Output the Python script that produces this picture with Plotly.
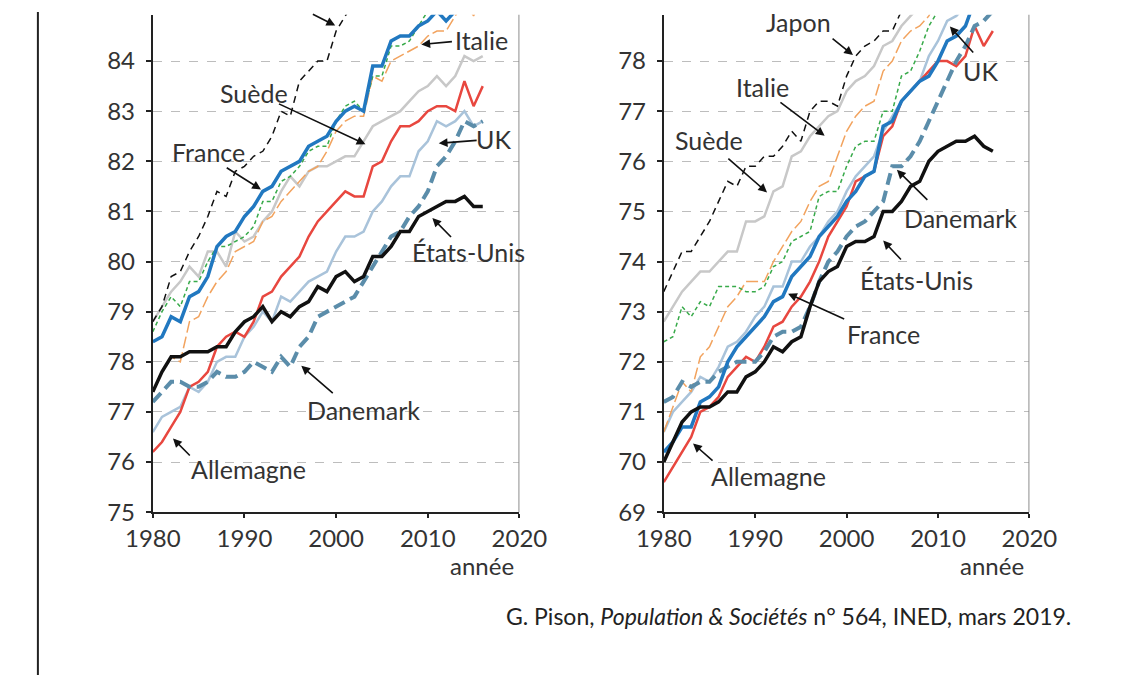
import plotly.graph_objects as go

years = list(range(1980, 2017))

# Women (left panel)
f_japon = [78.8, 79.1, 79.7, 79.8, 80.2, 80.5, 80.9, 81.4, 81.3, 81.8, 81.9, 82.1, 82.2, 82.5, 83.0, 82.9, 83.6, 83.8, 84.0, 84.0, 84.6, 84.9, 85.2, 85.3, 85.6, 85.5, 85.8, 86.0, 86.1, 86.4, 86.3, 85.9, 86.4, 86.6, 86.8, 87.0, 87.1]
f_france = [78.4, 78.5, 78.9, 78.8, 79.3, 79.4, 79.7, 80.3, 80.5, 80.6, 80.9, 81.1, 81.4, 81.5, 81.8, 81.9, 82.0, 82.3, 82.4, 82.5, 82.8, 83.0, 83.1, 83.0, 83.9, 83.9, 84.4, 84.5, 84.5, 84.7, 84.8, 85.0, 84.8, 85.0, 85.4, 85.3, 85.5]
f_italie = [77.4, 77.8, 78.1, 78.0, 78.8, 78.9, 79.3, 79.6, 79.8, 80.2, 80.3, 80.4, 80.8, 80.9, 81.2, 81.4, 81.6, 81.8, 81.9, 82.2, 82.6, 82.8, 82.9, 82.9, 83.7, 83.6, 84.0, 84.1, 84.2, 84.3, 84.5, 84.6, 84.6, 84.9, 85.2, 84.9, 85.3]
f_espagne = [78.6, 79.0, 79.3, 79.1, 79.6, 79.6, 80.0, 80.3, 80.3, 80.4, 80.5, 80.7, 81.2, 81.2, 81.6, 81.7, 81.9, 82.2, 82.3, 82.3, 82.8, 83.1, 83.2, 83.0, 83.7, 83.7, 84.3, 84.3, 84.4, 84.7, 85.0, 85.2, 85.1, 85.6, 85.7, 85.4, 85.9]
f_suede = [78.8, 79.1, 79.4, 79.6, 79.9, 79.7, 80.2, 80.2, 79.9, 80.6, 80.4, 80.5, 80.8, 81.0, 81.4, 81.7, 81.5, 81.8, 81.9, 81.9, 82.0, 82.1, 82.1, 82.4, 82.7, 82.8, 82.9, 83.0, 83.2, 83.4, 83.5, 83.7, 83.5, 83.7, 84.1, 84.0, 84.1]
f_allemagne = [76.2, 76.4, 76.7, 77.0, 77.5, 77.6, 77.8, 78.3, 78.5, 78.6, 78.5, 78.8, 79.3, 79.4, 79.7, 79.9, 80.1, 80.5, 80.8, 81.0, 81.2, 81.4, 81.3, 81.3, 81.9, 82.0, 82.4, 82.7, 82.7, 82.8, 83.0, 83.1, 83.1, 83.0, 83.6, 83.1, 83.5]
f_uk = [76.6, 76.9, 77.0, 77.1, 77.5, 77.4, 77.6, 78.0, 78.1, 78.1, 78.5, 78.7, 79.0, 78.8, 79.3, 79.2, 79.4, 79.6, 79.7, 79.8, 80.2, 80.5, 80.5, 80.6, 81.0, 81.2, 81.5, 81.7, 81.7, 82.2, 82.4, 82.8, 82.7, 82.8, 83.0, 82.7, 82.8]
f_danemark = [77.2, 77.4, 77.6, 77.6, 77.5, 77.5, 77.6, 77.8, 77.7, 77.7, 77.8, 78.0, 77.9, 77.8, 78.1, 77.9, 78.3, 78.5, 78.9, 79.0, 79.1, 79.2, 79.3, 79.6, 79.9, 80.2, 80.5, 80.6, 80.9, 81.1, 81.4, 81.9, 82.1, 82.4, 82.8, 82.7, 82.8]
f_usa = [77.4, 77.8, 78.1, 78.1, 78.2, 78.2, 78.2, 78.3, 78.3, 78.6, 78.8, 78.9, 79.1, 78.8, 79.0, 78.9, 79.1, 79.2, 79.5, 79.4, 79.7, 79.8, 79.6, 79.7, 80.1, 80.1, 80.3, 80.6, 80.6, 80.9, 81.0, 81.1, 81.2, 81.2, 81.3, 81.1, 81.1]

# Men (right panel)
m_japon = [73.4, 73.8, 74.2, 74.2, 74.5, 74.8, 75.2, 75.6, 75.5, 75.9, 75.9, 76.1, 76.1, 76.3, 76.6, 76.4, 77.0, 77.2, 77.2, 77.1, 77.7, 78.1, 78.3, 78.4, 78.6, 78.6, 79.0, 79.2, 79.3, 79.6, 79.6, 79.4, 79.9, 80.2, 80.5, 80.8, 81.0]
m_suede = [72.8, 73.1, 73.4, 73.6, 73.8, 73.8, 74.0, 74.2, 74.2, 74.8, 74.8, 74.9, 75.4, 75.5, 76.1, 76.2, 76.5, 76.7, 76.9, 77.0, 77.4, 77.6, 77.7, 77.9, 78.3, 78.4, 78.7, 78.9, 79.1, 79.4, 79.5, 79.8, 79.9, 80.1, 80.4, 80.3, 80.6]
m_italie = [70.6, 71.1, 71.6, 71.4, 72.1, 72.3, 72.7, 73.1, 73.3, 73.6, 73.6, 73.6, 74.0, 74.3, 74.6, 74.8, 75.2, 75.5, 75.6, 76.1, 76.6, 76.9, 77.1, 77.2, 77.8, 78.0, 78.4, 78.6, 78.7, 78.9, 79.3, 79.5, 79.6, 79.9, 80.3, 80.1, 80.6]
m_espagne = [72.4, 72.5, 73.1, 72.9, 73.2, 73.1, 73.5, 73.5, 73.5, 73.4, 73.4, 73.5, 73.9, 74.0, 74.4, 74.5, 74.6, 75.3, 75.4, 75.4, 75.9, 76.3, 76.4, 76.4, 77.0, 77.0, 77.7, 77.8, 78.2, 78.7, 79.0, 79.3, 79.4, 79.9, 80.1, 79.9, 80.4]
m_france = [70.2, 70.4, 70.7, 70.7, 71.2, 71.3, 71.5, 72.0, 72.3, 72.5, 72.7, 72.9, 73.2, 73.3, 73.7, 73.9, 74.1, 74.5, 74.7, 74.9, 75.2, 75.4, 75.7, 75.8, 76.7, 76.8, 77.2, 77.4, 77.6, 77.7, 78.0, 78.4, 78.5, 78.7, 79.2, 79.0, 79.3]
m_allemagne = [69.6, 69.9, 70.2, 70.5, 71.0, 71.1, 71.3, 71.7, 71.9, 72.1, 72.0, 72.3, 72.7, 72.8, 73.1, 73.3, 73.6, 74.0, 74.5, 74.8, 75.1, 75.6, 75.7, 75.8, 76.5, 76.7, 77.2, 77.4, 77.6, 77.8, 78.0, 78.0, 77.9, 78.1, 78.7, 78.3, 78.6]
m_uk = [70.6, 71.0, 71.2, 71.4, 71.7, 71.6, 71.9, 72.3, 72.4, 72.6, 72.9, 73.1, 73.5, 73.5, 74.0, 74.0, 74.3, 74.5, 74.8, 75.0, 75.4, 75.7, 75.9, 76.1, 76.6, 76.9, 77.2, 77.4, 77.6, 78.1, 78.4, 78.8, 78.9, 79.1, 79.4, 79.2, 79.4]
m_danemark = [71.2, 71.3, 71.6, 71.5, 71.6, 71.6, 71.8, 71.9, 72.0, 72.0, 72.0, 72.2, 72.5, 72.6, 72.6, 72.7, 73.1, 73.6, 74.0, 74.2, 74.5, 74.7, 74.8, 75.0, 75.2, 75.9, 75.9, 76.1, 76.4, 76.8, 77.2, 77.6, 78.0, 78.3, 78.7, 78.8, 79.0]
m_usa = [70.0, 70.4, 70.8, 71.0, 71.1, 71.1, 71.2, 71.4, 71.4, 71.7, 71.8, 72.0, 72.3, 72.2, 72.4, 72.5, 73.1, 73.6, 73.8, 73.9, 74.3, 74.4, 74.4, 74.5, 75.0, 75.0, 75.2, 75.5, 75.6, 76.0, 76.2, 76.3, 76.4, 76.4, 76.5, 76.3, 76.2]

x_ticks = [1980, 1990, 2000, 2010, 2020]
left_ticks = list(range(75, 85))
right_ticks = list(range(69, 79))

FONT = "Lato"
TXT = "#333333"

styles = {
    "Suède": dict(color="#C8C8C8", width=2.5, dash="solid"),
    "UK": dict(color="#A9C3DA", width=2.5, dash="solid"),
    "Italie": dict(color="#F2A35E", width=1.5, dash="12px,4px"),
    "Espagne": dict(color="#38AA4A", width=1.5, dash="4px,3px"),
    "Allemagne": dict(color="#E8473F", width=2.5, dash="solid"),
    "Danemark": dict(color="#5B8DAA", width=4, dash="12px,6px"),
    "Japon": dict(color="#111111", width=1.5, dash="7px,5px"),
    "France": dict(color="#2178C0", width=3.5, dash="solid"),
    "États-Unis": dict(color="#111111", width=3.5, dash="solid"),
}

women = {"Suède": f_suede, "UK": f_uk, "Italie": f_italie, "Espagne": f_espagne,
         "Allemagne": f_allemagne, "Danemark": f_danemark, "Japon": f_japon,
         "France": f_france, "États-Unis": f_usa}
men = {"Suède": m_suede, "UK": m_uk, "Italie": m_italie, "Espagne": m_espagne,
       "Allemagne": m_allemagne, "Danemark": m_danemark, "Japon": m_japon,
       "France": m_france, "États-Unis": m_usa}

fig = go.Figure()
for name, vals in women.items():
    fig.add_trace(go.Scatter(x=years, y=vals, mode="lines", name=name, line=styles[name],
                             xaxis="x", yaxis="y", showlegend=False))
for name, vals in men.items():
    fig.add_trace(go.Scatter(x=years, y=vals, mode="lines", name=name, line=styles[name],
                             xaxis="x2", yaxis="y2", showlegend=False))

# The page body has an 8px default margin: size the figure so it fits the 1122x688 window
OFF = 8
W, H = 1122 - OFF, 688 - OFF
def px_x(p):
    return (p - OFF) / W
def px_y(p):
    return (H - (p - OFF)) / H

ydom = [px_y(522), px_y(15)]
xaxis_common = dict(range=[1980, 2020], tickvals=x_ticks, showgrid=False, zeroline=False,
                    showline=True, linecolor="#222222", linewidth=2, ticks="outside",
                    ticklen=4, tickwidth=1.5, tickcolor="#222222",
                    tickfont=dict(family=FONT, size=24, color=TXT))
yaxis_common = dict(showgrid=True, gridcolor="#BDBDBD", griddash="dash", gridwidth=1,
                    zeroline=False, showline=True, linecolor="#222222", linewidth=2,
                    ticks="outside", ticklen=5, tickwidth=1.5, tickcolor="#222222",
                    ticklabelstandoff=6, tickfont=dict(family=FONT, size=24, color=TXT))

fig.update_layout(
    width=W, height=H, margin=dict(l=0, r=0, t=0, b=0),
    paper_bgcolor="white", plot_bgcolor="white",
    xaxis=dict(domain=[px_x(131), px_x(517)], anchor="y", **xaxis_common),
    yaxis=dict(domain=ydom, anchor="x", range=[75, 75 + 507 / 51.1], tickvals=left_ticks, **yaxis_common),
    xaxis2=dict(domain=[px_x(669), px_x(1054)], anchor="y2", **xaxis_common),
    yaxis2=dict(domain=ydom, anchor="x2", range=[69, 69 + 507 / 51.1], tickvals=right_ticks, **yaxis_common),
)

shapes = [
    dict(type="line", xref="x", yref="y domain", x0=2020, x1=2020, y0=0, y1=1,
         line=dict(color="#8C8C8C", width=2)),
    dict(type="line", xref="x2", yref="y2 domain", x0=2020, x1=2020, y0=0, y1=1,
         line=dict(color="#8C8C8C", width=2)),
    dict(type="line", xref="paper", yref="paper", x0=px_x(10), x1=px_x(10), y0=0, y1=px_y(12),
         line=dict(color="#222222", width=2)),
]
fig.update_layout(shapes=shapes)

ann = []
LBL = 25
def label(xr, yr, x, y, text):
    ann.append(dict(xref=xr, yref=yr, x=x, y=y, text=text, showarrow=False,
                    font=dict(family=FONT, size=LBL, color=TXT), xanchor="center", yanchor="middle"))
def arrow(xr, yr, x0, y0, x1, y1):
    ann.append(dict(xref=xr, yref=yr, axref=xr, ayref=yr, ax=x0, ay=y0, x=x1, y=y1, text="",
                    showarrow=True, arrowhead=2, arrowsize=1.1, arrowwidth=1.6,
                    arrowcolor="#111111", standoff=0, startstandoff=0))

# Left panel (women)
label("x", "y", 2015.85, 84.43, "Italie"); arrow("x", "y", 2012.8, 84.39, 2009.3, 84.33)
label("x", "y", 1991.0, 83.36, "Suède"); arrow("x", "y", 1993.6, 83.16, 2003.2, 82.34)
label("x", "y", 1986.1, 82.18, "France"); arrow("x", "y", 1987.9, 81.89, 1991.8, 81.44)
label("x", "y", 2017.2, 82.44, "UK"); arrow("x", "y", 2015.5, 82.42, 2011.2, 82.36)
label("x", "y", 2014.4, 80.19, "États-Unis"); arrow("x", "y", 2012.7, 80.46, 2010.5, 80.87)
label("x", "y", 2003.0, 77.04, "Danemark"); arrow("x", "y", 1999.8, 77.35, 1996.2, 77.92)
label("x", "y", 1990.4, 75.86, "Allemagne"); arrow("x", "y", 1984.2, 76.10, 1982.2, 76.47)
arrow("x", "y", 1997.3, 84.95, 1999.9, 84.71)

# Right panel (men)
label("x2", "y2", 1994.75, 78.78, "Japon"); arrow("x2", "y2", 1998.3, 78.47, 2000.7, 78.12)
label("x2", "y2", 1990.8, 77.49, "Italie"); arrow("x2", "y2", 1992.6, 77.2, 1997.6, 76.51)
label("x2", "y2", 1984.9, 76.42, "Suède"); arrow("x2", "y2", 1986.9, 76.08, 1991.3, 75.38)
label("x2", "y2", 2014.7, 77.81, "UK"); arrow("x2", "y2", 2014.0, 78.14, 2011.3, 78.69)
label("x2", "y2", 2012.5, 74.87, "Danemark"); arrow("x2", "y2", 2009.0, 75.2, 2005.5, 75.83)
label("x2", "y2", 2007.6, 73.64, "États-Unis"); arrow("x2", "y2", 2006.1, 74.01, 2004.0, 74.42)
label("x2", "y2", 2004.0, 72.56, "France"); arrow("x2", "y2", 1999.9, 72.84, 1993.6, 73.36)
label("x2", "y2", 1991.5, 69.72, "Allemagne"); arrow("x2", "y2", 1985.5, 70.0, 1983.2, 70.37)

# "année" labels
for xp in (px_x(513), px_x(1050)):
    ann.append(dict(xref="paper", yref="paper", x=xp, y=px_y(576), text="année", showarrow=False,
                    xanchor="right", yanchor="middle", font=dict(family=FONT, size=24, color=TXT)))

# Source
ann.append(dict(xref="paper", yref="paper", x=px_x(1100), y=px_y(628),
                text="G. Pison, <i>Population &amp; Sociétés</i> n° 564, INED, mars 2019.",
                showarrow=False, xanchor="right", yanchor="middle",
                font=dict(family=FONT, size=23, color="#222222")))

fig.update_layout(annotations=ann)
fig.write_html("out.html")
